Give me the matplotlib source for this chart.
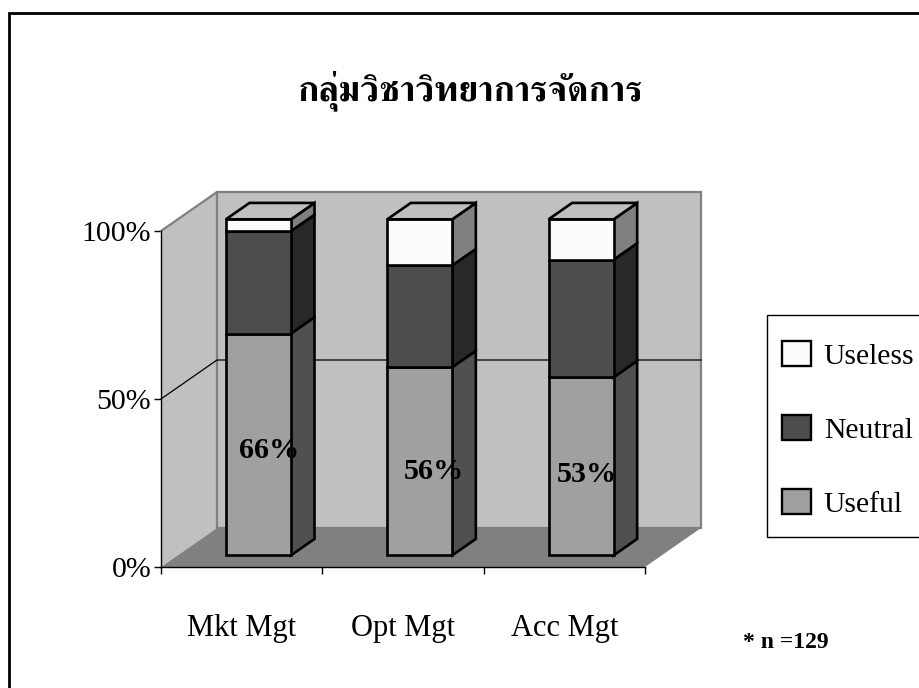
import matplotlib
matplotlib.use("Agg")
import matplotlib.pyplot as plt
from matplotlib.patches import Polygon, Patch, Rectangle

# ---- data ----
categories = ["Mkt Mgt", "Opt Mgt", "Acc Mgt"]
useful = [66, 56, 53]
neutral = [30.5, 30.3, 35]
useless = [3.5, 13.7, 12]
data_labels = ["66%", "56%", "53%"]
series_names = ["Useful", "Neutral", "Useless"]
y_ticks = [0, 50, 100]
y_tick_labels = ["0%", "50%", "100%"]
title = "กลุ่มวิชาวิทยาการจัดการ"
note = "* n =129"

# ---- style ----
W, H = 919, 688
SERIF = "Liberation Serif"
front_cols = ["#a0a0a0", "#4d4d4d", "#fcfcfc"]
side_cols = ["#505050", "#282828", "#808080"]
WALL, FLOOR, EDGE = "#c0c0c0", "#808080", "#808080"
BLACK_LW = 1.9
L, R, B, T = 161, 645, 567, 231          # front plane in pixels
DX, DY = 56, 39                          # full-depth shift in pixels
XU, YU = (R - L) / 3, (B - T) / 100      # pixels per data unit
D0, D1 = 0.30, 0.72                      # depth range of bars
BAR_W = 0.403
label_nudge = [(11, -6), (14, -10), (6, -8)]  # pixel offsets of the data labels


def proj(x, y, d):
    """data coordinates on a plane at depth d -> front-plane data coordinates"""
    return (x + d * DX / XU, y + d * DY / YU)


plt.rcParams["font.family"] = [SERIF, "DejaVu Sans"]
fig = plt.figure(figsize=(W / 100, H / 100), dpi=100, facecolor="white")
ax = fig.add_axes([L / W, 1 - B / H, (R - L) / W, (B - T) / H])
ax.set_xlim(0, 3)
ax.set_ylim(0, 100)
ax.patch.set_visible(False)
for s in ("top", "right"):
    ax.spines[s].set_visible(False)
for s in ("left", "bottom"):
    ax.spines[s].set_linewidth(1.0)
    ax.spines[s].set_zorder(20)


def poly(points, fc, ec="none", lw=0.0, z=1):
    ax.add_patch(Polygon(points, closed=True, facecolor=fc, edgecolor=ec,
                         linewidth=lw, clip_on=False, zorder=z, joinstyle="miter"))


# walls and floor
poly([proj(0, 0, 0), proj(0, 0, 1), proj(0, 100, 1), proj(0, 100, 0)], WALL, z=1)
poly([proj(0, 0, 1), proj(3, 0, 1), proj(3, 100, 1), proj(0, 100, 1)], WALL, z=1)
poly([proj(0, 0, 0), proj(3, 0, 0), proj(3, 0, 1), proj(0, 0, 1)], FLOOR, z=1)
edge_path = [proj(0, 100, 0), proj(0, 100, 1), proj(3, 100, 1), proj(3, 0, 1), proj(0, 0, 1), proj(0, 100, 1)]
ax.plot(*zip(*edge_path), color=EDGE, lw=1.6, clip_on=False, zorder=2, solid_joinstyle="miter")
# gridline at 50 %
grid_path = [proj(0, 50, 0), proj(0, 50, 1), proj(3, 50, 1)]
ax.plot(*zip(*grid_path), color="black", lw=0.9, clip_on=False, zorder=3)

# bars
z = 5
for i, cat in enumerate(categories):
    xc = i + 0.5
    x0, x1 = xc - BAR_W / 2, xc + BAR_W / 2
    base = 0
    for vals, fc, sc in zip((useful, neutral, useless), front_cols, side_cols):
        v = vals[i]
        top = base + v
        poly([proj(x1, base, D0), proj(x1, base, D1), proj(x1, top, D1), proj(x1, top, D0)],
             sc, "black", BLACK_LW, z)
        poly([proj(x0, base, D0), proj(x1, base, D0), proj(x1, top, D0), proj(x0, top, D0)],
             fc, "black", BLACK_LW, z)
        base = top
    poly([proj(x0, base, D0), proj(x1, base, D0), proj(x1, base, D1), proj(x0, base, D1)],
         WALL, "black", BLACK_LW, z)
    lx, ly = proj(xc, useful[i] / 2, D0)
    ax.annotate(data_labels[i], (lx, ly), xytext=label_nudge[i], textcoords="offset pixels",
                ha="center", va="center", fontsize=21.7, fontweight="bold",
                family=SERIF, zorder=30, annotation_clip=False)

# axes ticks
ax.set_yticks(y_ticks, y_tick_labels)
ax.set_xticks([0, 1, 2, 3], [""] * 4)
ax.set_xticks([0.5, 1.5, 2.5], categories, minor=True)
ax.tick_params(axis="y", length=5, width=1, pad=2, labelsize=21.5)
ax.tick_params(axis="x", which="major", length=5, width=1)
ax.tick_params(axis="x", which="minor", length=0, pad=33.5, labelsize=22)

# title and note
fig.text(471 / W, 1 - 100 / H, title, ha="center", va="baseline", fontsize=26,
         fontweight="bold", family=["FreeSerif", "Noto Serif Thai"])
fig.text(743 / W, 1 - 648 / H, note, ha="left", va="baseline", fontsize=17,
         fontweight="bold", family=SERIF)

# outer frame (runs past the right and bottom of the picture) and legend box
fig.add_artist(Rectangle((9 / W, 1 - 720 / H), 960 / W, 707 / H, transform=fig.transFigure,
                         fill=False, ec="black", lw=2.0))
fig.add_artist(Rectangle((767 / W, 1 - 537 / H), 200 / W, 222 / H, transform=fig.transFigure,
                         fc="white", ec="black", lw=1.0, zorder=3))
handles = [Patch(facecolor=c, edgecolor="black", linewidth=1.7, label=n)
           for c, n in zip(front_cols[::-1], series_names[::-1])]
leg = fig.legend(handles=handles, loc="upper left", bbox_to_anchor=(782 / W, 1 - 341 / H),
                 bbox_transform=fig.transFigure, frameon=False, borderpad=0, borderaxespad=0,
                 handlelength=0.98, handleheight=0.93, handletextpad=0.43,
                 labelspacing=1.53, prop={"family": SERIF, "size": 21.3})
leg.set_zorder(5)

fig.savefig("out.png", dpi=100)
